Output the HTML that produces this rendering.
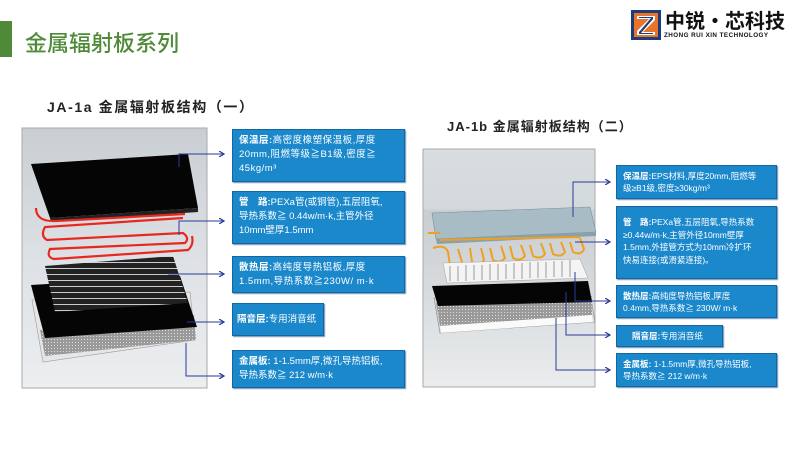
<!DOCTYPE html>
<html><head><meta charset="utf-8"><style>
body{margin:0;width:800px;height:450px;background:#fff;position:relative;overflow:hidden;font-family:"Liberation Sans","Noto Sans CJK SC",sans-serif}
.a{position:absolute}
.box{position:absolute;background:#1b88cc;border:1px solid #1466a0;color:#fff;font-size:9.5px;line-height:14px;padding:4px 6px;box-sizing:border-box;box-shadow:1px 1px 1px #6a8fb0;white-space:nowrap;overflow:hidden}
.box b{font-weight:bold}
</style></head><body>
<div class="a" style="left:0;top:21px;width:12px;height:36px;background:#4f8a38"></div>
<div class="a" style="left:25px;top:26px;font-size:22px;color:#4f8a38;font-family:'Noto Sans CJK SC',sans-serif;font-weight:500">金属辐射板系列</div>
<svg class="a" style="left:631px;top:10px" width="30" height="30" viewBox="0 0 30 30"><rect x="0" y="0" width="30" height="30" fill="#1d3d7a"/><rect x="3" y="3" width="24" height="24" fill="#e8742a"/><path d="M6 6H24V10L12 22H24V25H6V21L18 9H6Z" fill="#fff"/><path d="M8 7H22V9L10 23H22V24H8V22L20 8H8Z" fill="#1d3d7a"/></svg>
<div class="a" style="left:665px;top:9px;font-size:20px;font-weight:bold;color:#111;font-family:'Noto Sans CJK SC',sans-serif;line-height:22px">中锐·芯科技</div>
<div class="a" style="left:664px;top:32px;font-size:6.3px;font-weight:bold;color:#111;letter-spacing:0.45px">ZHONG RUI XIN TECHNOLOGY</div>

<div class="a" style="left:47px;top:97px;font-size:14px;font-weight:bold;color:#222;letter-spacing:1.6px">JA-1a 金属辐射板结构（一）</div>
<div class="a" style="left:447px;top:116px;font-size:13px;font-weight:bold;color:#222;letter-spacing:1px">JA-1b 金属辐射板结构（二）</div>

<svg class="a" style="left:0;top:0" width="800" height="450">
<defs>
<linearGradient id="g1" x1="0" y1="0" x2="0" y2="1"><stop offset="0" stop-color="#c9ced3"/><stop offset="0.5" stop-color="#dde1e5"/><stop offset="1" stop-color="#eceef0"/></linearGradient>
<linearGradient id="g2" x1="0" y1="0" x2="0" y2="1"><stop offset="0" stop-color="#d8dde0"/><stop offset="0.25" stop-color="#d4d9dc"/><stop offset="0.26" stop-color="#c8cdd1"/><stop offset="1" stop-color="#eaeced"/></linearGradient>
<pattern id="st" width="4" height="6" patternUnits="userSpaceOnUse"><rect width="4" height="6" fill="#222"/><rect y="4" width="4" height="1" fill="#ccc"/></pattern>
<pattern id="dt" width="3" height="3" patternUnits="userSpaceOnUse"><rect width="3" height="3" fill="#9a9a9a"/><rect width="1" height="1" fill="#ddd"/></pattern>
<marker id="ar" markerWidth="6" markerHeight="6" refX="5" refY="3" orient="auto"><path d="M0 0L5 3L0 6" fill="none" stroke="#2a3a9a" stroke-width="1.2"/></marker>
</defs>
<rect x="22" y="128" width="185" height="260" fill="url(#g1)" stroke="#aaa"/>
<!-- left slab -->
<polygon points="31,164 188,154 198,208 50,218" fill="#050505"/>
<polygon points="50,218 198,208 198,212 51,222" fill="#222"/>
<!-- red pipes -->
<path d="M36,208 Q36,222 56,221 L185,214 M183,218 L45,227 Q40,236 47,240 L183,233 Q190,238 185,243 L50,249 Q46,257 54,259 L188,250 Q194,245 192,236" fill="none" stroke="#e8281e" stroke-width="2.2"/>
<!-- tray -->
<polygon points="32,300 190,292 195,340 43,362" fill="#e6e6e6" stroke="#999" stroke-width="0.6"/>
<polygon points="40,330 194,315 196,340 45,356" fill="url(#dt)"/>
<!-- black sheet -->
<polygon points="31,285 180,276 197,327 45,338" fill="#050505"/>
<!-- striped plate on top -->
<polygon points="45,266 173,256 188,303 55,312" fill="url(#st)"/>

<rect x="423" y="149" width="172" height="238" fill="url(#g2)" stroke="#aaa"/>
<!-- right slab -->
<polygon points="432,213 590,207 596,232 436,239" fill="#a8bcc6" stroke="#7b8f99" stroke-width="0.6"/>
<polygon points="436,239 596,232 596,236 437,244" fill="#8aa0ab"/>
<!-- orange pipes -->
<path d="M428,233 L440,233 M440,240 L580,237 M433,248 Q445,244 448,252 L450,265 Q458,268 462,262 L458,249 M470,248 L472,262 Q480,266 484,260 L481,248 M490,248 L493,260 Q500,264 505,258 L501,246 M510,246 L513,258 Q520,262 525,256 L521,245 M530,245 L533,256 Q541,260 545,254 L541,243 M550,243 L553,254 Q561,258 565,252 L561,242 M570,242 L573,252 Q581,256 584,249 L580,238" fill="none" stroke="#f0a020" stroke-width="2"/>
<!-- fins -->
<polygon points="443,263 580,259 588,278 447,283" fill="#f4f4f4" stroke="#aaa" stroke-width="0.6"/>
<path d="M450,266 L450,281 M458,266 L458,281 M466,265 L466,281 M474,265 L474,280 M482,265 L482,280 M490,264 L490,280 M498,264 L498,280 M506,264 L506,279 M514,263 L514,279 M522,263 L522,279 M530,262 L530,278 M538,262 L538,278 M546,262 L546,278 M554,261 L554,277 M562,261 L562,277 M570,260 L570,277" stroke="#9a9a9a" stroke-width="1"/>
<!-- black + tray -->
<polygon points="434,298 590,293 595,322 440,333" fill="#d8d8d8" stroke="#888" stroke-width="0.6"/>
<polygon points="436,303 592,296 592,315 440,326" fill="url(#dt)"/>
<polygon points="432,286 588,281 592,302 438,306" fill="#050505"/>
<polygon points="440,326 592,315 593,322 441,333" fill="#fafafa"/>

<g fill="none" stroke="#2a3a9a" stroke-width="1" marker-end="url(#ar)">
<path d="M179,167V154H224"/>
<path d="M179,235V221H224"/>
<path d="M168,274H224"/>
<path d="M187,322H224"/>
<path d="M186,343V376H224"/>
<path d="M573,217V182H610"/>
<path d="M575,242H610"/>
<path d="M575,272V301H610"/>
<path d="M566,292V335H610"/>
<path d="M556,318V370H610"/>
</g>
</svg>

<div class="box" style="left:232px;top:129px;width:173px;height:53px;letter-spacing:0.5px"><b>保温层:</b>高密度橡塑保温板,厚度<br>20mm,阻燃等级≧B1级,密度≧<br>45kg/m³</div>
<div class="box" style="left:232px;top:191px;width:173px;height:53px"><b>管　路:</b>PEXa管(或铜管),五层阻氧,<br>导热系数≧ 0.44w/m·k,主管外径<br>10mm壁厚1.5mm</div>
<div class="box" style="left:232px;top:256px;width:173px;height:37px;letter-spacing:0.5px"><b>散热层:</b>高纯度导热铝板,厚度<br>1.5mm,导热系数≧230W/ m·k</div>
<div class="box" style="left:232px;top:303px;width:92px;height:33px;line-height:24px;padding:4px 4px"><b>隔音层:</b>专用消音纸</div>
<div class="box" style="left:232px;top:350px;width:173px;height:38px"><b>金属板:</b> 1-1.5mm厚,微孔导热铝板,<br>导热系数≧ 212 w/m·k</div>

<div class="box" style="left:616px;top:165px;width:161px;height:34px;font-size:8.5px;line-height:12px;padding:4px 6px"><b>保温层:</b>EPS材料,厚度20mm,阻燃等<br>级≥B1级,密度≥30kg/m³</div>
<div class="box" style="left:616px;top:206px;width:161px;height:73px;font-size:8.5px;line-height:12.5px;padding:9px 6px"><b>管　路:</b>PEXa管,五层阻氧,导热系数<br>≥0.44w/m·k,主管外径10mm壁厚<br>1.5mm,外接管方式为10mm冷扩环<br>快易连接(或滑紧连接)。</div>
<div class="box" style="left:616px;top:285px;width:161px;height:33px;font-size:8.5px;line-height:12px;padding:4px 6px"><b>散热层:</b>高纯度导热铝板,厚度<br>0.4mm,导热系数≧ 230W/ m·k</div>
<div class="box" style="left:616px;top:325px;width:107px;height:22px;font-size:8.5px;line-height:12px;padding:4px 0 0 15px"><b>隔音层:</b>专用消音纸</div>
<div class="box" style="left:616px;top:353px;width:161px;height:34px;font-size:8.5px;line-height:12px;padding:4px 6px"><b>金属板:</b> 1-1.5mm厚,微孔导热铝板,<br>导热系数≧ 212 w/m·k</div>
</body></html>
